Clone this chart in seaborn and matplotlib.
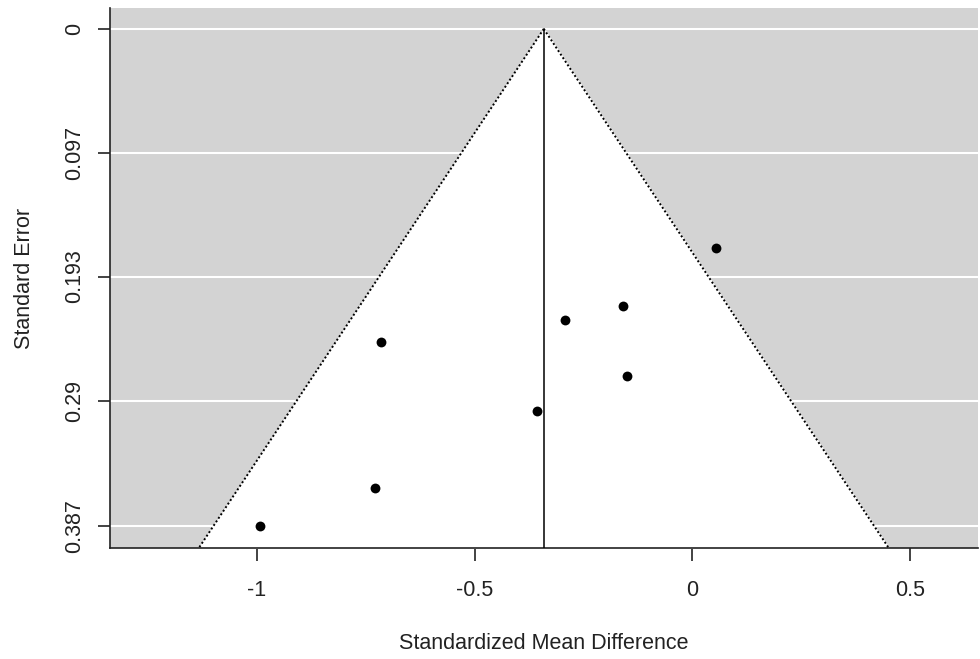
import numpy as np
import pandas as pd
import matplotlib
matplotlib.use("Agg")
import matplotlib.pyplot as plt
import seaborn as sns

# study estimates (SMD) and their standard errors
smd = [0.055, -0.159, -0.292, -0.715, -0.149, -0.356, -0.729, -0.993]
se = [0.171, 0.216, 0.227, 0.244, 0.2704, 0.2976, 0.3575, 0.387]
pooled = -0.341
z = 1.96
y_ticks = [0, 0.097, 0.193, 0.29, 0.387]
y_tick_labels = ["0", "0.097", "0.193", "0.29", "0.387"]
x_ticks = [-1, -0.5, 0, 0.5]
x_tick_labels = ["-1", "-0.5", "0", "0.5"]

df = pd.DataFrame({"smd": smd, "se": se})

sns.set_style("ticks")
plt.rcParams["font.family"] = ["Liberation Sans", "DejaVu Sans"]

fig = plt.figure(figsize=(9.8, 6.59), dpi=100)
ax = fig.add_axes([0.1122, 0.1684, 0.8858, 0.8195])

xlim = (-1.338, 0.657)
ylim = (0.4045, -0.0163)
ax.set_facecolor("lightgray")

# white grid lines at the y ticks
for t in y_ticks:
    ax.axhline(t, color="white", lw=1.5, zorder=1)

# funnel region
se_grid = np.linspace(0, ylim[0], 200)
lo = pooled - z * se_grid
hi = pooled + z * se_grid
ax.fill_betweenx(se_grid, lo, hi, color="white", zorder=2)
ax.plot(lo, se_grid, color="black", ls=(0, (1, 1.2)), lw=1.4, zorder=3)
ax.plot(hi, se_grid, color="black", ls=(0, (1, 1.2)), lw=1.4, zorder=3)
ax.plot([pooled, pooled], [0, ylim[0]], color="black", lw=1.1, zorder=3)

sns.scatterplot(data=df, x="smd", y="se", ax=ax, color="black", s=50,
                edgecolor="black", linewidth=0, zorder=4, legend=False)

ax.set_xlim(*xlim)
ax.set_ylim(*ylim)
ax.set_xticks(x_ticks)
ax.set_xticklabels(x_tick_labels)
ax.set_yticks(y_ticks)
ax.set_yticklabels(y_tick_labels, rotation=90, va="center")
ax.tick_params(axis="both", length=9, width=1.2, color="#222222",
               labelsize=15.5, labelcolor="#222222")
ax.tick_params(axis="x", pad=14)
ax.tick_params(axis="y", pad=9)

for side in ["top", "right"]:
    ax.spines[side].set_visible(False)
for side in ["left", "bottom"]:
    ax.spines[side].set_linewidth(1.2)
    ax.spines[side].set_color("#222222")

ax.set_xlabel("Standardized Mean Difference", fontsize=15.5, color="#222222", labelpad=23)
ax.set_ylabel("Standard Error", fontsize=15.5, color="#222222", labelpad=21)

fig.savefig("out.png", dpi=100)
